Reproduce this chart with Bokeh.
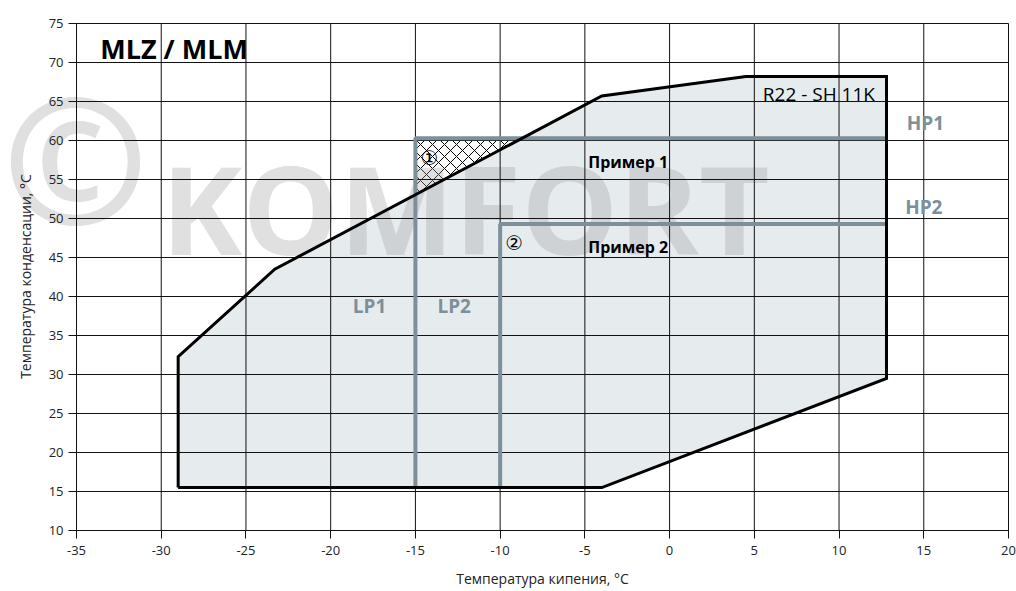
import numpy as np
from bokeh.plotting import figure
from bokeh.models import Label
from bokeh.core.properties import value
from bokeh.embed import file_html
from bokeh.resources import INLINE

# ---- data ----
env_x = [-29, -29, -23.3, -4, 4.5, 12.8, 12.8, -4]
env_y = [15.5, 32.3, 43.5, 65.7, 68.2, 68.2, 29.5, 15.5]

lp1_x = -15.0
lp2_x = -10.0
hp1_y = 60.3
hp2_y = 49.3
line_bottom = 15.5
line_right = 12.8

x_ticks = [-35, -30, -25, -20, -15, -10, -5, 0, 5, 10, 15, 20]
y_ticks = [10, 15, 20, 25, 30, 35, 40, 45, 50, 55, 60, 65, 70, 75]

title_text = "MLZ / MLM"
refr_text = "R22 - SH 11K"
x_label = "Температура кипения, °C"
y_label = "Температура конденсации, °C"

FONT = "Open Sans"

# ---- layout (pixels) ----
W, H = 1016, 591
ML, MR, MT, MB = 76, 8, 23, 61
X0, X1 = x_ticks[0], x_ticks[-1]
Y0, Y1 = y_ticks[0], y_ticks[-1]
kx = (W - ML - MR) / (X1 - X0)
ky = (H - MT - MB) / (Y1 - Y0)
# the frame covers the whole canvas so the watermark can reach the left edge
p = figure(width=W, height=H,
           x_range=(X0 - ML / kx, X1 + MR / kx),
           y_range=(Y0 - MB / ky, Y1 + MT / ky),
           output_backend="svg", toolbar_location=None,
           min_border_left=0, min_border_right=0, min_border_top=0,
           min_border_bottom=0)
p.xgrid.visible = False
p.ygrid.visible = False
p.outline_line_color = None
p.background_fill_color = "white"
p.border_fill_color = "white"

# envelope fill
p.patch(env_x, env_y, fill_color="#e6ebee", line_color=None, level="image")

# hatched region: above the envelope edge, inside LP1/HP1 box
ex0, ey0, ex1, ey1 = env_x[2], env_y[2], env_x[3], env_y[3]
slope = (ey1 - ey0) / (ex1 - ex0)
y_at_lp1 = ey0 + (lp1_x - ex0) * slope
x_at_hp1 = ex0 + (hp1_y - ey0) / slope
p.patch([lp1_x, x_at_hp1, lp1_x], [hp1_y, hp1_y, y_at_lp1],
        fill_color="white", line_color=None, hatch_pattern="x",
        hatch_color="black", hatch_scale=12, hatch_weight=1.0, level="image")

# watermark (behind the grid)
p.text(x=[-30.0], y=[51.3], text=["KOMFORT"], text_font=value(FONT), text_font_size="122px",
       text_font_style="bold", text_color="#a0a0a0", text_alpha=0.33,
       text_baseline="alphabetic", level="image")
p.text(x=[X0 - 0.06], y=[58.0], text=["©"], text_font=value(FONT), text_font_size="176px",
       text_font_style="bold", text_color="#a0a0a0", text_alpha=0.33,
       text_align="center", text_baseline="middle", level="image")

# grid lines from the tick lists
nx, ny = len(x_ticks), len(y_ticks)
p.segment(x0=x_ticks, y0=[Y0] * nx, x1=x_ticks, y1=[Y1] * nx,
          line_color="#111111", line_width=1, level="underlay")
p.segment(x0=[X0] * ny, y0=y_ticks, x1=[X1] * ny, y1=y_ticks,
          line_color="#111111", line_width=1, level="underlay")

# LP / HP lines
p.line([lp1_x, lp1_x, line_right], [line_bottom, hp1_y, hp1_y], line_color="#7c8f9b", line_width=4)
p.line([lp2_x, lp2_x, line_right], [line_bottom, hp2_y, hp2_y], line_color="#7c8f9b", line_width=4)

# envelope outline
p.line(env_x + [env_x[0]], env_y + [env_y[0]], line_color="black", line_width=3, line_join="miter")

# texts
def txt(x, y, s, size, bold=False, color="black", font=FONT):
    p.add_layout(Label(x=x, y=y, text=s, text_font=font, text_font_size=size,
                       text_font_style="bold" if bold else "normal", text_color=color,
                       text_baseline="middle", text_align="left"))

txt(-33.6, 71.8, title_text, "27px", bold=True)
txt(5.5, 66.0, refr_text, "19px")
txt(14.0, 62.3, "HP1", "19px", bold=True, color="#7c8f9b")
txt(13.9, 51.5, "HP2", "19px", bold=True, color="#7c8f9b")
txt(-18.7, 38.8, "LP1", "19px", bold=True, color="#7c8f9b")
txt(-13.7, 38.8, "LP2", "19px", bold=True, color="#7c8f9b")
txt(-4.8, 57.2, "Пример 1", "16px", bold=True)
txt(-4.8, 46.4, "Пример 2", "16px", bold=True)
txt(-14.7, 57.7, "①", "20px", font="DejaVu Sans")
txt(-9.7, 46.9, "②", "20px", font="DejaVu Sans")

# axis titles
p.text(x=[X0 - 51 / kx], y=[Y0 + 254 / ky], text=[y_label], angle=np.pi / 2,
       text_font=value(FONT), text_font_size="14px", text_color="#222222",
       text_align="center", text_baseline="middle", level="overlay")
p.text(x=[X0 + 466 / kx], y=[Y0 - 48 / ky], text=[x_label],
       text_font=value(FONT), text_font_size="14px", text_color="#222222",
       text_align="center", text_baseline="middle", level="overlay")

# axes, pinned to the plot area's edges
p.xaxis.fixed_location = Y0
p.yaxis.fixed_location = X0
p.xaxis.bounds = (X0, X1)
p.yaxis.bounds = (Y0, Y1)
p.xaxis.ticker = x_ticks
p.yaxis.ticker = y_ticks
p.xaxis.major_label_overrides = {t: str(t) for t in x_ticks}
p.yaxis.major_label_overrides = {t: str(t) for t in y_ticks}
for ax in (p.xaxis, p.yaxis):
    ax.axis_line_color = "#111111"
    ax.major_tick_line_color = "#111111"
    ax.major_tick_out = 8
    ax.major_tick_in = 0
    ax.minor_tick_line_color = None
    ax.major_label_text_font = FONT
    ax.major_label_text_font_size = "13px"
    ax.major_label_text_color = "#222222"
p.xaxis.major_label_standoff = 7
p.yaxis.major_label_standoff = 5

open("out.html", "w").write(file_html(p, INLINE))
